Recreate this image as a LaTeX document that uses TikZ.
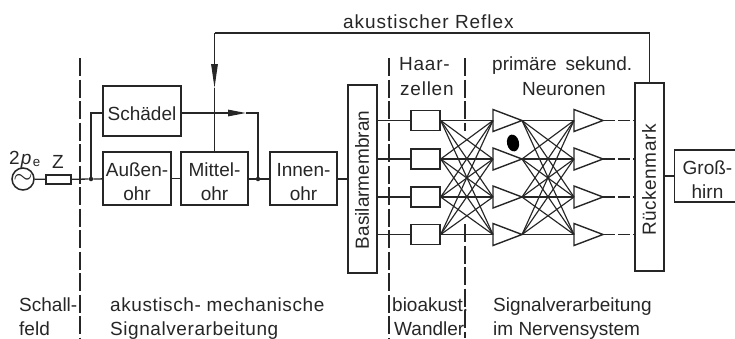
\documentclass[tikz,border=0pt]{standalone}
\usepackage{fontspec}
\setmainfont{Liberation Sans}
\usepackage{tikz}
\usetikzlibrary{shapes, arrows.meta, positioning, calc}

\newcommand{\firstline}{\rule{0pt}{20pt}}

\begin{document}
\begin{tikzpicture}[
    x=1pt, y=-1pt,
    every node/.style={font=\fontsize{19}{24}\selectfont, text=black!85},
    box/.style={
        draw=black!85, line width=1.5pt, inner sep=0pt, align=center,
        minimum width=#1
    },
    vbox/.style={
        draw=black!85, line width=1.5pt, inner sep=0pt,
        minimum width=29pt, minimum height=#1
    },
    haarbox/.style={
        draw=black!85, line width=1.4pt, inner sep=0pt,
        minimum width=29pt, minimum height=20pt
    },
    neuron/.style={
        draw=black!85, line width=1.4pt, isosceles triangle, isosceles triangle stretches,
        inner sep=0pt, outer sep=0pt, minimum width=22pt, minimum height=29pt, anchor=lower side
    },
    dot/.style={circle, fill=black!85, inner sep=0pt, minimum size=4.5pt},
    label/.style={anchor=base west, inner sep=0pt},
    wide/.style={font=\fontsize{19}{24}\selectfont\addfontfeature{LetterSpace=#1}},
    wire/.style={draw=black!85, line width=1.3pt},
    net/.style={draw=black!85, line width=1.15pt},
    sep/.style={draw=black!85, line width=1.1pt, dash pattern=on 18pt off 3.5pt},
    arr/.style={wire, -{Triangle[length=#1, width=6.5pt]}}
]
\useasboundingbox (0,0) rectangle (735,338);

% Separators
\foreach \name/\xpos/\ytop/\ybot in {schall/80/58/338, bio/389/58/338, wandlera/465/58/131, wandlerb/465/224/338} {
    \coordinate (\name top) at (\xpos, \ytop);
    \coordinate (\name bot) at (\xpos, \ybot);
    \draw[sep] (\name top) -- (\name bot);
}

% Source
\node[draw=black!85, line width=1.5pt, circle, minimum size=22pt, inner sep=0pt, font=\fontsize{28}{28}\selectfont] (source) at (23, 179) {$\sim$};
\node[draw=black!85, line width=1.4pt, minimum width=25pt, minimum height=9pt, inner sep=0pt] (zres) at (58.5, 179.5) {};
\node[dot] (junctionl) at (91, 179) {};
\node[dot] (junctionr) at (258, 179) {};

% Mechanical blocks
\node[box=78pt, minimum height=50pt, text height=18pt, text depth=0pt] (schaedel) at (142, 111) {Schädel};
\node[box=68pt, minimum height=53pt] (aussen) at (137, 178.5) {\firstline Außen-\\ohr};
\node[box=67pt, minimum height=53pt] (mittel) at (214.5, 178.5) {\firstline Mittel-\\ohr};
\node[box=67pt, minimum height=53pt] (innen) at (303.5, 178.5) {\firstline Innen-\\ohr};
\node[vbox=188pt] (basilar) at (362.5, 179) {};
\node[rotate=90] (basilartext) at (362, 180) {Basilarmembran};
\node[vbox=188pt] (rueckenmark) at (649.5, 177) {};
\node[rotate=90, wide=3] (rueckentext) at (649, 180) {Rückenmark};
\node[box=66pt, minimum height=52pt] (grosshirn) at (707.5, 176) {\firstline Groß-\\hirn};

% Wires
\coordinate (skullin) at (91, 113);
\coordinate (skullout) at (258, 113);
\coordinate (skullarrow) at (246, 113);
\coordinate (reflexa) at (214.5, 33);
\coordinate (reflexb) at (649.5, 33);
\coordinate (reflexarrow) at (214.5, 88);
\draw[wire] (source) -- (zres);
\draw[wire] (zres) -- (junctionl);
\draw[wire] (junctionl) -- (aussen);
\draw[wire] (aussen.east) -- (mittel.west);
\draw[wire] (mittel.east |- junctionr) -- (junctionr);
\draw[wire] (junctionr) -- (innen.west |- junctionr);
\draw[wire] (innen.east |- junctionr) -- (basilar.west |- junctionr);
\draw[wire] (junctionl) -- (skullin) -- (schaedel.west |- skullin);
\draw[arr=18pt] (schaedel.east |- skullin) -- (skullarrow);
\draw[wire] (skullarrow) -- (skullout) -- (junctionr);
\draw[wire] (rueckenmark.north) -- (reflexb) -- (reflexa);
\draw[arr=24pt] (reflexa) -- (reflexarrow);
\draw[wire] (reflexarrow) -- (mittel.north);
\draw[wire] (rueckenmark.east |- grosshirn) -- (grosshirn);

% Hair cells and neurons
\foreach \i/\ypos in {1/120.5, 2/159, 3/197, 4/234.5} {
    \node[haarbox] (haar\i) at (425.5, \ypos) {};
    \node[neuron] (prim\i) at (493, \ypos) {};
    \node[neuron] (sek\i) at (574, \ypos) {};
    \draw[wire] (basilar.east |- haar\i) -- (haar\i);
    \draw[wire, dash pattern=on 12pt off 3pt] (sek\i.apex) -- (rueckenmark.west |- sek\i.apex);
}
\foreach \i in {1,...,4} {
    \foreach \j in {1,...,4} {
        \draw[net] (haar\i.east) -- (prim\j.lower side);
        \draw[net] (prim\i.apex) -- (sek\j.lower side);
    }
}

% Blob
\node[ellipse, fill=black, rotate=12, inner sep=0pt, minimum width=12pt, minimum height=17pt] (blob) at (513, 143) {};

% Labels
\node[label, wide=5] (reflexlabel) at (343, 28) {akustischer Reflex};
\node[label] (druck) at (9, 164) {2\kern1pt\textit{p}\kern1.5pt\textsubscript{e}};
\node[label] (zlabel) at (52, 168) {Z};
\node[label, wide=4] (haarlabel) at (399, 70) {Haar-};
\node[label, wide=4] (zellenlabel) at (400, 95) {zellen};
\node[label] (primlabel) at (492, 70) {primäre\hspace{9pt}sekund.};
\node[label] (neurolabel) at (522, 95) {Neuronen};
\node[label] (schall) at (19, 311) {Schall-};
\node[label] (feld) at (19, 335) {feld};
\node[label, wide=3] (akustisch) at (110, 311) {akustisch- mechanische};
\node[label, wide=3] (signal) at (110, 335) {Signalverarbeitung};
\node[label] (bioakust) at (392, 311) {bioakust.};
\node[label] (wandler) at (394, 335) {Wandler};
\node[label] (nerv) at (493, 311) {Signalverarbeitung};
\node[label] (system) at (493, 335) {im Nervensystem};
\end{tikzpicture}
\end{document}
